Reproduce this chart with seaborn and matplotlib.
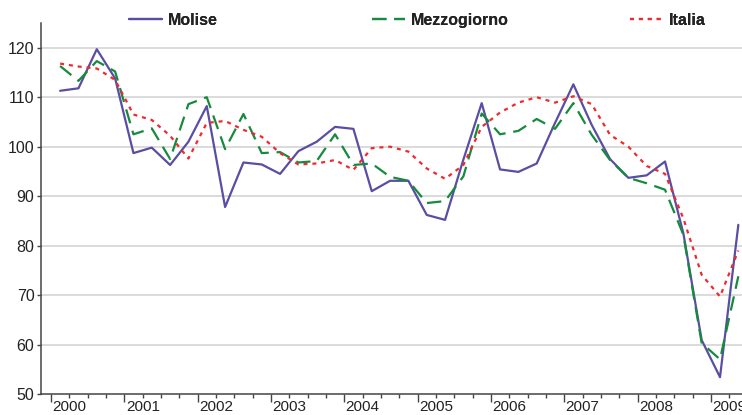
import matplotlib
matplotlib.use("Agg")
import matplotlib.pyplot as plt
import matplotlib.transforms as mtransforms
from matplotlib.ticker import MultipleLocator
import seaborn as sns
import pandas as pd

# trimestri dal 2000 T1 al 2009 T2
trimestri = [f"{a}-T{q}" for a in range(2000, 2010) for q in range(1, 5)][:38]

molise = [111.3, 111.8, 119.7, 113.8, 98.7, 99.8, 96.3, 101.0, 108.2, 87.8,
          96.8, 96.4, 94.5, 99.1, 101.0, 104.0, 103.6, 91.0, 93.1, 93.1,
          86.2, 85.2, 97.4, 108.8, 95.4, 94.9, 96.6, 104.8, 112.6, 104.4,
          97.5, 93.7, 94.2, 97.0, 82.5, 60.9, 53.4, 84.2]
mezzogiorno = [116.3, 113.3, 117.3, 115.2, 102.5, 103.7, 97.5, 108.6, 110.0, 99.5,
               106.6, 98.7, 98.9, 96.8, 97.1, 102.5, 96.3, 96.6, 93.9, 93.1,
               88.6, 89.0, 94.0, 106.7, 102.5, 103.2, 105.6, 103.6, 108.8, 102.4,
               97.3, 93.7, 92.6, 91.3, 82.2, 60.3, 57.0, 73.8]
italia = [116.8, 116.2, 115.8, 113.5, 106.5, 105.4, 102.2, 97.6, 104.8, 105.2,
          103.4, 102.0, 98.7, 96.4, 96.6, 97.3, 95.3, 99.7, 100.0, 99.0,
          95.6, 93.5, 96.3, 104.0, 106.9, 108.9, 110.0, 108.9, 110.2, 108.6,
          102.4, 100.0, 96.1, 94.5, 85.5, 74.1, 69.7, 79.0]

anni = list(range(2000, 2010))
y_ticks = [50, 60, 70, 80, 90, 100, 110, 120]

# posizione al centro del trimestre
x = [int(t[:4]) + (int(t[-1]) - 0.5) / 4 for t in trimestri]
df = pd.DataFrame({"x": x, "Molise": molise, "Mezzogiorno": mezzogiorno, "Italia": italia})

sns.set_style("white")
plt.rcParams['font.family'] = ['Liberation Sans', 'DejaVu Sans']

fig = plt.figure(figsize=(7.42, 4.15), dpi=100)
ax = fig.add_axes([40.7 / 742, 1 - 394 / 415, 1 - 40.7 / 742, (394 - 23) / 415])

stili = {
    "Molise": dict(color="#5a4ea2", linestyle="-"),
    "Mezzogiorno": dict(color="#168a3d", linestyle=(0, (6.5, 3.5))),
    "Italia": dict(color="#ee2a2e", linestyle=(0, (1.8, 2.2))),
}
for nome, st in stili.items():
    sns.lineplot(data=df, x="x", y=nome, ax=ax, linewidth=1.6, label=nome,
                 legend=False, **st)

ax.set_xlim(2000 - 0.56 / 4, 2000 + 37.7 / 4)
ax.set_ylim(50, 125)
ax.set_xlabel("")
ax.set_ylabel("")

ax.set_yticks(y_ticks)
ax.set_xticks(anni)
ax.set_xticklabels([str(a) for a in anni], ha="left")
ax.xaxis.set_minor_locator(MultipleLocator(0.25))
for g in y_ticks[1:]:
    ax.axhline(g, color="#d4d4d4", linewidth=1.2, zorder=0)

ax.tick_params(axis="y", which="major", direction="out", length=3, width=1,
               color="#444444", labelsize=11.5, labelcolor="#222222", pad=1.5, left=True)
ax.tick_params(axis="x", which="major", direction="out", length=6, width=1,
               color="#444444", labelsize=11, labelcolor="#222222", pad=-1.5, bottom=True)
ax.tick_params(axis="x", which="minor", direction="out", length=3, width=1,
               color="#444444", bottom=True)
offset = mtransforms.ScaledTranslation(1.5 / 100, 0, fig.dpi_scale_trans)
for lab in ax.get_xticklabels():
    lab.set_transform(lab.get_transform() + offset)

sns.despine(ax=ax)
for s in ["left", "bottom"]:
    ax.spines[s].set_color("#444444")
    ax.spines[s].set_linewidth(1.1)

# legenda: tre voci separate in alto
handles, labels = ax.get_legend_handles_labels()
pos_x = [129, 372, 630]
for h, l, px in zip(handles, labels, pos_x):
    leg = fig.legend([h], [l], loc="center left", bbox_to_anchor=(px / 742, 1 - 20.5 / 415),
                     frameon=False, borderpad=0, borderaxespad=0, handlelength=2.05,
                     handletextpad=0.4, prop={"weight": "bold", "size": 11.5})
    for t in leg.get_texts():
        t.set_color("#222222")
    fig.add_artist(leg)

fig.savefig("out.png", dpi=100)
